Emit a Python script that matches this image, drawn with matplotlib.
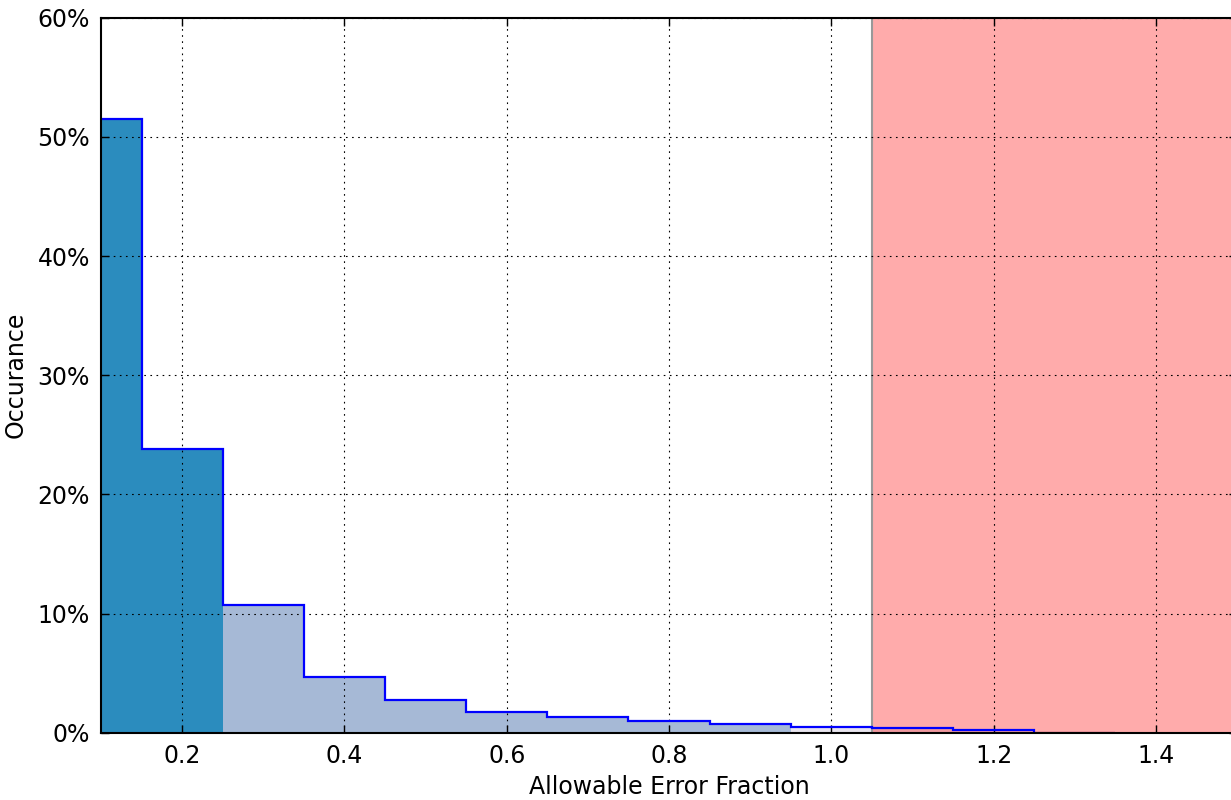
import numpy as np
import matplotlib
matplotlib.use('Agg')
import matplotlib.pyplot as plt
from matplotlib.ticker import FuncFormatter

# histogram of allowable error fraction (percent per bin, bins of width 0.1)
bin_centers = [0.1, 0.2, 0.3, 0.4, 0.5, 0.6, 0.7, 0.8, 0.9, 1.0, 1.1, 1.2, 1.3]
occurance = [51.5, 23.8, 10.7, 4.65, 2.78, 1.78, 1.3, 1.02, 0.78, 0.52, 0.38, 0.26, 0.12]
limit = 1.05

centers = np.array(bin_centers)
values = np.array(occurance)
edges = np.append(centers - 0.05, centers[-1] + 0.05)

fig = plt.figure(figsize=(12.31, 8.0), dpi=100)
ax = fig.add_axes([0.082, 0.084, 0.923, 0.894])

# filled bins: dark for the first two, light up to 0.95, pale beyond
dark = centers <= 0.2
light = (centers > 0.2) & (centers < 0.95)
pale = centers >= 0.95
for mask, col in [(dark, '#2b8cbe'), (light, '#a6b9d6'), (pale, '#e8e4ee')]:
    idx = np.where(mask)[0]
    ax.stairs(values[idx], edges[idx[0]:idx[-1] + 2], fill=True, color=col, lw=0, zorder=1)

# region above the allowed limit
ax.axvspan(limit, 1.6, color='#ff0000', alpha=0.33, lw=0, zorder=2)
ax.axvline(limit, color='#999999', lw=1.5, zorder=2)

# outline of the histogram
ax.stairs(values[:-1], edges[:-1], color='#0000ff', lw=1.6, zorder=3)

ax.set_xlim(0.1, 1.5)
ax.set_ylim(0, 60)
ax.set_xticks([0.2, 0.4, 0.6, 0.8, 1.0, 1.2, 1.4])
ax.set_yticks([0, 10, 20, 30, 40, 50, 60])
ax.yaxis.set_major_formatter(FuncFormatter(lambda v, p: '%d%%' % v))
ax.tick_params(direction='in', top=True, right=True, labelsize=17, length=6, width=1, pad=8)
ax.grid(True, color='black', linestyle=(0, (1.5, 4)), lw=0.8, zorder=4)
ax.set_axisbelow(False)
for s in ax.spines.values():
    s.set_linewidth(1.5)
    s.set_zorder(5)

ax.set_xlabel('Allowable Error Fraction', fontsize=17, labelpad=5)
ax.set_ylabel('Occurance', fontsize=17, labelpad=7)

fig.savefig('out.png', dpi=100)
